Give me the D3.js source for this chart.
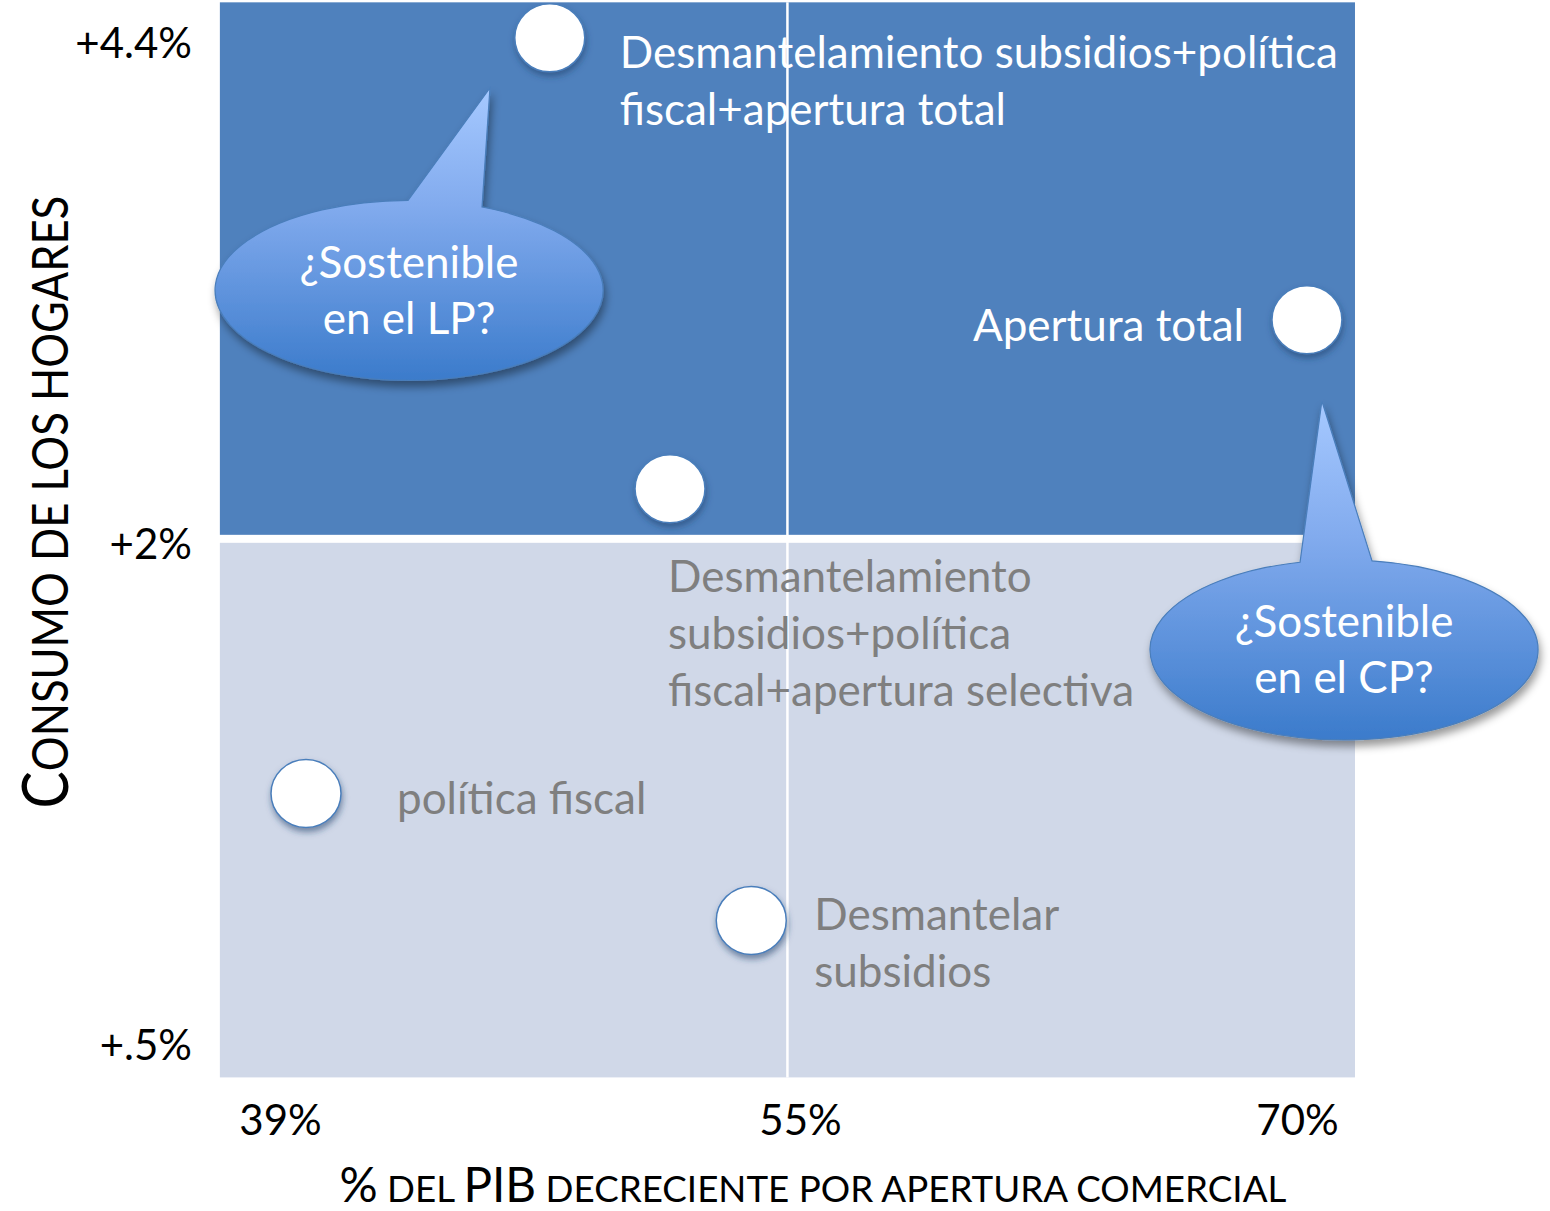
<!DOCTYPE html>
<html>
<head>
<meta charset="utf-8">
<script src="https://cdn.jsdelivr.net/npm/d3@7"></script>
<style>
  body { margin: 0; background: #fff; }
  svg { display: block; font-family: Lato, "Open Sans", sans-serif; }
</style>
</head>
<body>
<svg id="chart" width="1550" height="1211"></svg>
<script>
// datos
const escenarios = [
  ["Desmantelamiento subsidios+política", "fiscal+apertura total"],
  ["Apertura total"],
  ["Desmantelamiento", "subsidios+política", "fiscal+apertura selectiva"],
  ["política fiscal"],
  ["Desmantelar", "subsidios"]
];
const pibApertura = [47.3, 70.3, 51.0, 39.8, 53.5];
const consumoHogares = [4.42, 3.07, 2.26, 1.25, 0.87];

const xTicks = [39, 55, 70];
const xTickLabels = ["39%", "55%", "70%"];
const yTicks = [0.5, 2, 4.4];
const yTickLabels = ["+.5%", "+2%", "+4.4%"];

const preguntas = [["¿Sostenible", "en el LP?"], ["¿Sostenible", "en el CP?"]];
const preguntaCentro = [[42.97, 3.21], [71.42, 1.68]];
const preguntaPunta = [[45.46, 4.18], [70.75, 2.68]];

// extension del area y umbral entre cuadrantes
const xExtent = [37.15, 71.75];
const yExtent = [0.40, 4.59];
const umbralConsumo = 2.02;

// layout de etiquetas (desplazamiento en px respecto al punto)
const etiquetaPos = [
  { dx: 70, dy: 15, anchor: "start" },
  { dx: -63, dy: 6, anchor: "end" },
  { dx: -2, dy: 88, anchor: "start" },
  { dx: 91, dy: 5, anchor: "start" },
  { dx: 63, dy: -6, anchor: "start" }
];
// base de la cola de cada globo (px respecto al centro)
const colaBase = [[-1, 73], [-44, 28]];

const svg = d3.select("#chart");
const defs = svg.append("defs");

// escalas por tramos: las marcas del eje no son equidistantes
const x = d3.scaleLinear().domain(xTicks).range([280, 800, 1297]);
const y = d3.scaleLinear().domain(yTicks).range([1044, 543, 42]);

const sombra = defs.append("filter").attr("id", "sombra")
  .attr("x", "-30%").attr("y", "-30%").attr("width", "160%").attr("height", "170%");
sombra.append("feDropShadow").attr("dx", 1).attr("dy", 4).attr("stdDeviation", 3)
  .attr("flood-color", "#1f3f6a").attr("flood-opacity", 0.55);

const sombraGlobo = defs.append("filter").attr("id", "sombraGlobo")
  .attr("x", "-20%").attr("y", "-20%").attr("width", "140%").attr("height", "150%");
sombraGlobo.append("feDropShadow").attr("dx", 2).attr("dy", 6).attr("stdDeviation", 4)
  .attr("flood-color", "#000").attr("flood-opacity", 0.4);

const grad = defs.append("linearGradient").attr("id", "gradGlobo")
  .attr("x1", 0).attr("y1", 0).attr("x2", 0).attr("y2", 1);
grad.append("stop").attr("offset", "0%").attr("stop-color", "#a6c9ff");
grad.append("stop").attr("offset", "40%").attr("stop-color", "#82abee");
grad.append("stop").attr("offset", "100%").attr("stop-color", "#3b7bcb");

const x0 = x(xExtent[0]), x1 = x(xExtent[1]);
const yTop = y(yExtent[1]), yBot = y(yExtent[0]);
const yMid = y(umbralConsumo);

// cuadrantes
svg.append("rect")
  .attr("x", x0).attr("y", yTop)
  .attr("width", x1 - x0).attr("height", yMid - 4 - yTop)
  .attr("fill", "#4f81bd");
svg.append("rect")
  .attr("x", x0).attr("y", yMid + 4)
  .attr("width", x1 - x0).attr("height", yBot - yMid - 4)
  .attr("fill", "#d0d8e8");
svg.append("line")
  .attr("x1", (x0 + x1) / 2).attr("x2", (x0 + x1) / 2)
  .attr("y1", yTop).attr("y2", yBot)
  .attr("stroke", "#fff").attr("stroke-width", 2.5);

// eje y
const gy = svg.append("g")
  .attr("transform", "translate(192,0)")
  .call(d3.axisLeft(y).tickValues(yTicks).tickSize(0).tickPadding(0)
    .tickFormat((d, i) => yTickLabels[i]));
gy.select(".domain").remove();
gy.selectAll("text")
  .attr("font-family", "Lato, sans-serif")
  .attr("font-size", 42)
  .attr("fill", "#000")
  .attr("dy", "0.36em");

// eje x
const gx = svg.append("g")
  .attr("transform", "translate(0,1120)")
  .call(d3.axisBottom(x).tickValues(xTicks).tickSize(0).tickPadding(0)
    .tickFormat((d, i) => xTickLabels[i]));
gx.select(".domain").remove();
gx.selectAll("text")
  .attr("font-family", "Lato, sans-serif")
  .attr("font-size", 42)
  .attr("fill", "#000")
  .attr("dy", "0.36em");

// titulos de ejes (versalitas): cada trozo es un <text>, luego se centra
// y se ajusta el ancho con una escala horizontal
function titulo(partes, ancho, cx, cy, girar) {
  const g = svg.append("g");
  const inner = g.append("g");
  let pos = 0;
  partes.forEach(([s, tam]) => {
    const t = inner.append("text")
      .attr("x", pos).attr("y", 0)
      .attr("font-size", tam).attr("fill", "#000")
      .attr("xml:space", "preserve").style("white-space", "pre")
      .text(s);
    pos += t.node().getComputedTextLength();
  });
  const k = ancho / pos;
  inner.attr("transform", `scale(${k},1) translate(${-pos / 2},0)`);
  g.attr("transform", `translate(${cx},${cy})` + (girar ? " rotate(-90)" : ""));
}
titulo([["%", 48], [" DEL ", 37], ["PIB", 48], [" DECRECIENTE POR APERTURA COMERCIAL", 37]], 947, 813, 1202, false);
titulo([["C", 64], ["ONSUMO DE LOS HOGARES", 50]], 613, 68, 502, true);

// globos de pregunta
preguntas.forEach((lineas, i) => {
  const cx = x(preguntaCentro[i][0]), cy = y(preguntaCentro[i][1]);
  const px = x(preguntaPunta[i][0]), py = y(preguntaPunta[i][1]);
  const rx = 194, ry = 90;
  const [bl, br] = colaBase[i];
  const yl = cy - ry * Math.sqrt(1 - (bl / rx) ** 2);
  const yr = cy - ry * Math.sqrt(1 - (br / rx) ** 2);
  const d = `M${cx + br},${yr} A${rx},${ry} 0 1 1 ${cx + bl},${yl} L${px},${py} Z`;
  svg.append("path")
    .attr("d", d)
    .attr("fill", "url(#gradGlobo)")
    .attr("stroke", "#4a7ebb").attr("stroke-width", 1.2)
    .attr("filter", "url(#sombraGlobo)");
  const t = svg.append("text")
    .attr("text-anchor", "middle")
    .attr("font-size", 44).attr("fill", "#fff");
  lineas.forEach((l, j) => t.append("tspan")
    .attr("x", cx).attr("y", cy - 28 + j * 56).attr("dy", "0.35em").text(l));
});

// puntos
svg.append("g").selectAll("ellipse")
  .data(pibApertura)
  .join("ellipse")
  .attr("cx", d => x(d))
  .attr("cy", (d, i) => y(consumoHogares[i]))
  .attr("rx", 35).attr("ry", 34)
  .attr("fill", "#fff")
  .attr("stroke", "#4a7ebb").attr("stroke-width", 1.5)
  .attr("filter", "url(#sombra)");

// etiquetas: blancas sobre el cuadrante oscuro, grises sobre el claro
escenarios.forEach((lineas, i) => {
  const px = x(pibApertura[i]), py = y(consumoHogares[i]);
  const pos = etiquetaPos[i];
  const ty = py + pos.dy;
  const t = svg.append("text")
    .attr("text-anchor", pos.anchor)
    .attr("font-size", 44)
    .attr("fill", ty < yMid ? "#fff" : "#7f7f7f");
  lineas.forEach((l, j) => t.append("tspan")
    .attr("x", px + pos.dx).attr("y", ty + j * 57)
    .attr("dy", "0.35em").text(l));
});
</script>
</body>
</html>
